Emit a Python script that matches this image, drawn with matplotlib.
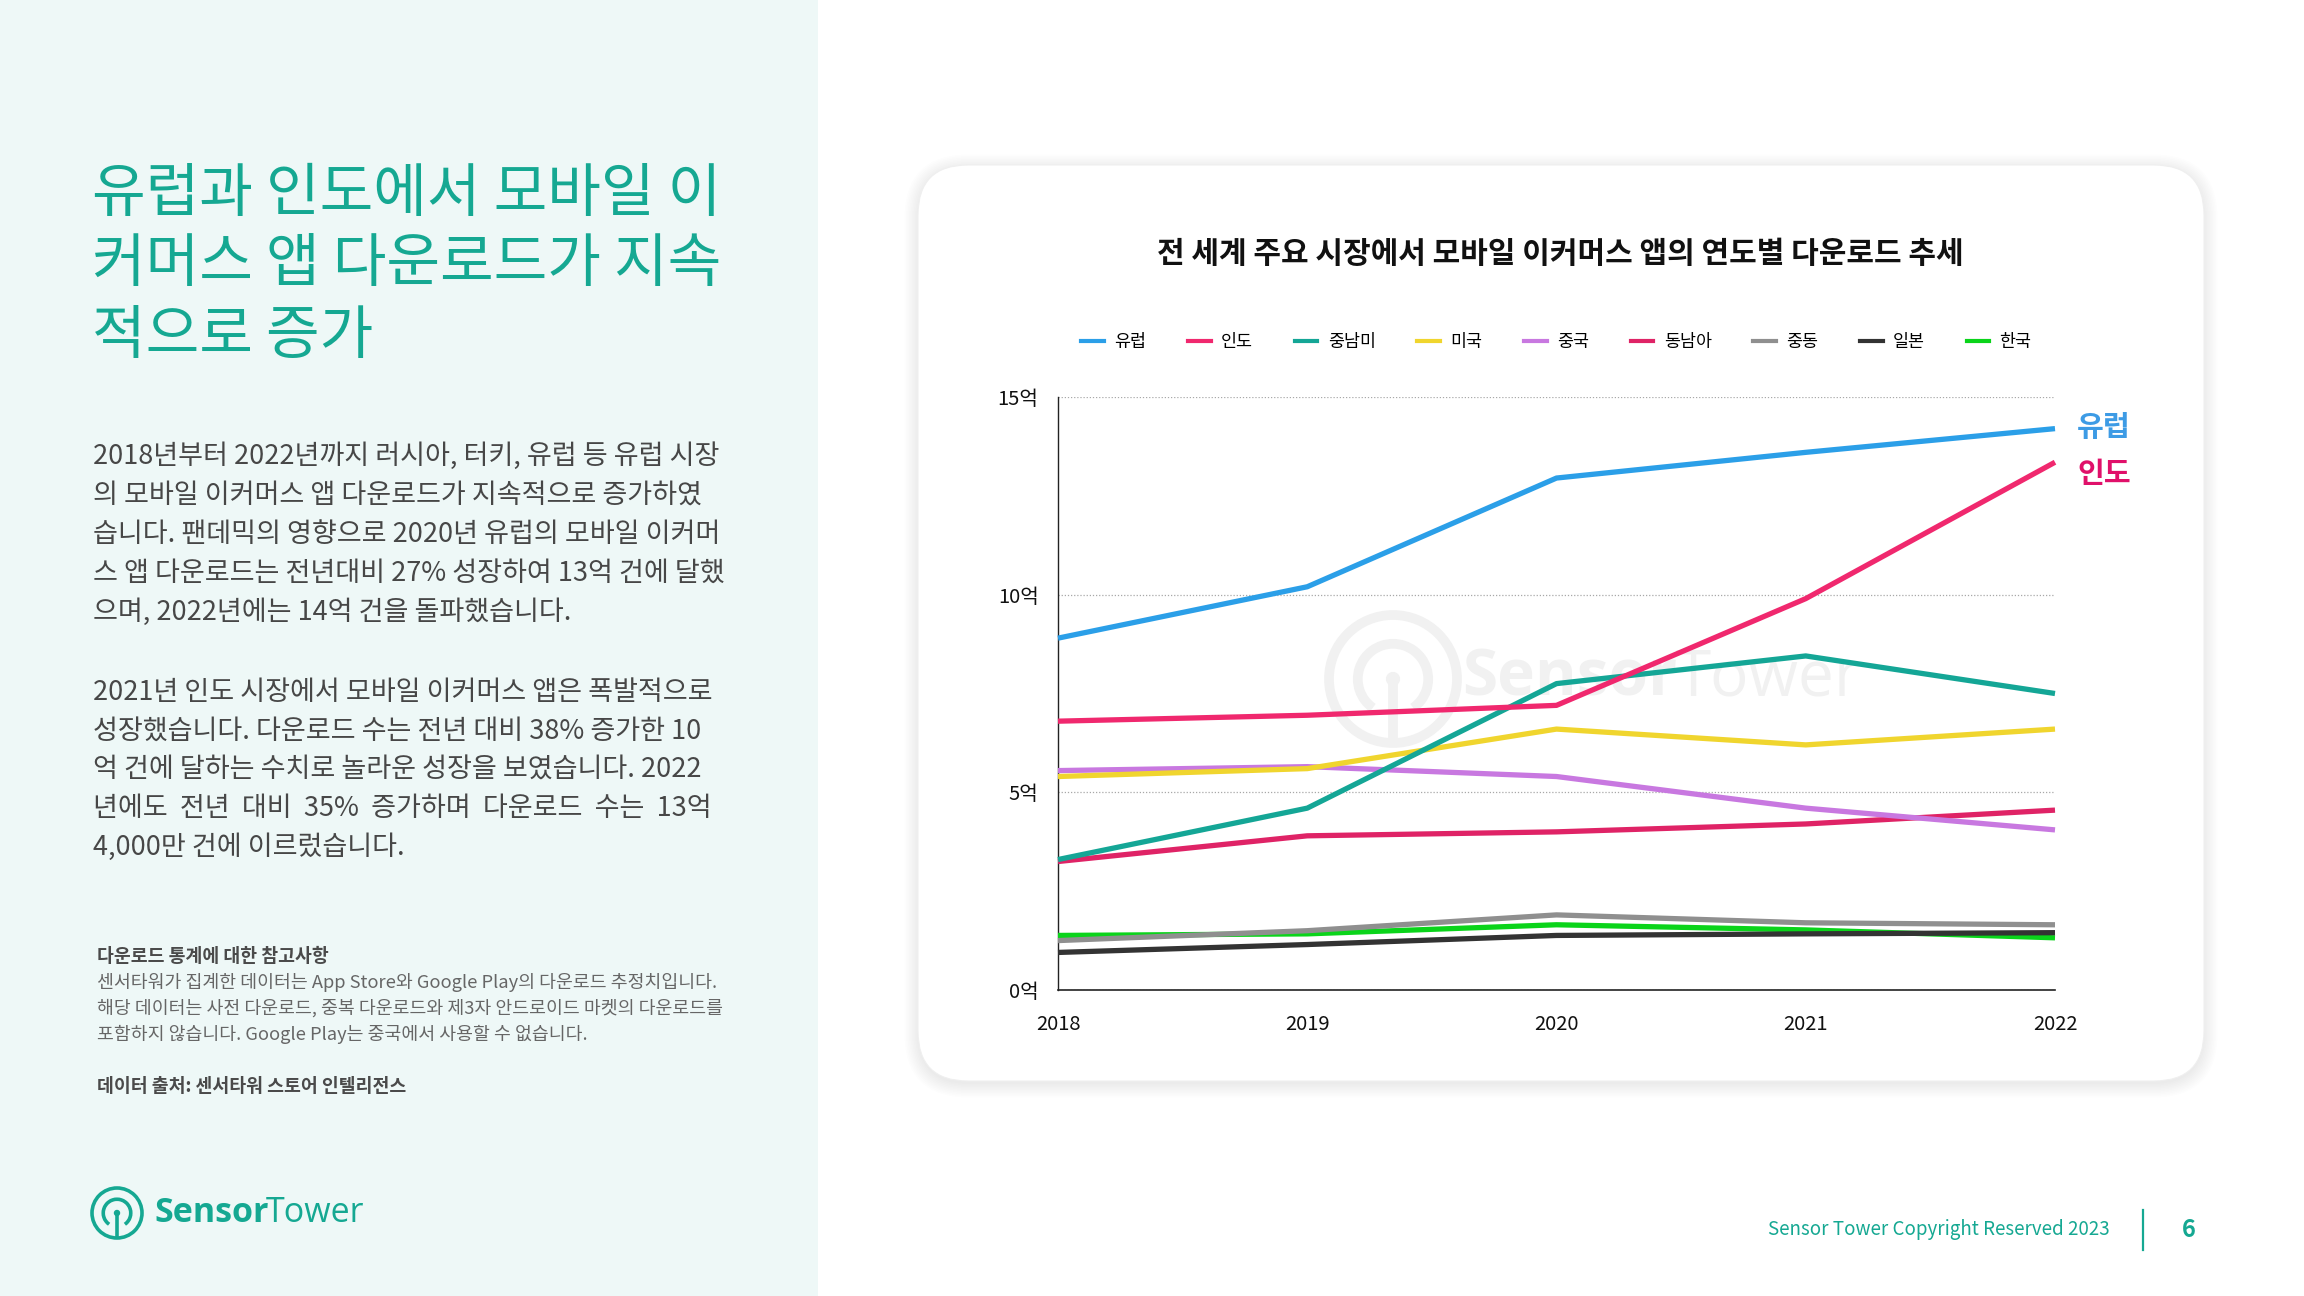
import matplotlib.pyplot as plt
from matplotlib.patches import FancyBboxPatch, Rectangle, Circle, Arc
from matplotlib.lines import Line2D

plt.rcParams['font.family'] = ['Noto Sans CJK KR', 'DejaVu Sans']

# data (억 downloads)
years = [2018, 2019, 2020, 2021, 2022]
markets = ['유럽', '인도', '중남미', '미국', '중국', '동남아', '중동', '일본', '한국']
europe = [8.9, 10.2, 12.95, 13.6, 14.2]
india = [6.8, 6.95, 7.2, 9.9, 13.35]
latam = [3.3, 4.6, 7.75, 8.45, 7.5]
usa = [5.4, 5.6, 6.6, 6.2, 6.6]
china = [5.55, 5.65, 5.4, 4.6, 4.05]
sea = [3.25, 3.9, 4.0, 4.2, 4.55]
mideast = [1.25, 1.5, 1.9, 1.7, 1.65]
japan = [0.95, 1.15, 1.38, 1.42, 1.45]
korea = [1.38, 1.42, 1.65, 1.52, 1.32]
series = [europe, india, latam, usa, china, sea, mideast, japan, korea]
colors = ['#2b9fe8', '#f0286e', '#14a696', '#f0d52e', '#c878e0',
          '#df2366', '#8f8f8f', '#333333', '#0ad41a']
yticks = [0, 5, 10, 15]
ytick_labels = ['0억', '5억', '10억', '15억']

title_lines = ['유럽과 인도에서 모바일 이', '커머스 앱 다운로드가 지속', '적으로 증가']
para1 = ['2018년부터 2022년까지 러시아, 터키, 유럽 등 유럽 시장',
         '의 모바일 이커머스 앱 다운로드가 지속적으로 증가하였',
         '습니다. 팬데믹의 영향으로 2020년 유럽의 모바일 이커머',
         '스 앱 다운로드는 전년대비 27% 성장하여 13억 건에 달했',
         '으며, 2022년에는 14억 건을 돌파했습니다.']
para2 = ['2021년 인도 시장에서 모바일 이커머스 앱은 폭발적으로',
         '성장했습니다. 다운로드 수는 전년 대비 38% 증가한 10',
         '억 건에 달하는 수치로 놀라운 성장을 보였습니다. 2022',
         '년에도  전년  대비  35%  증가하며  다운로드  수는  13억',
         '4,000만 건에 이르렀습니다.']
note_lines = ['센서타워가 집계한 데이터는 App Store와 Google Play의 다운로드 추정치입니다.',
              '해당 데이터는 사전 다운로드, 중복 다운로드와 제3자 안드로이드 마켓의 다운로드를',
              '포함하지 않습니다. Google Play는 중국에서 사용할 수 없습니다.']

teal = '#15a892'

fig = plt.figure(figsize=(23.04, 12.96), dpi=100, facecolor='white')

# background layer in pixel coords
bg = fig.add_axes([0, 0, 1, 1])
bg.set_xlim(0, 2304)
bg.set_ylim(1296, 0)
bg.axis('off')

bg.add_patch(Rectangle((0, 0), 818, 1296, color='#eef8f7', lw=0))

# card with soft shadow
for k in range(10):
    bg.add_patch(FancyBboxPatch((918 - k * 1.5, 165 - k * 1.5 + 3), 1286 + k * 3, 916 + k * 3,
                                boxstyle=f'round,pad=0,rounding_size={50 + k * 1.5}',
                                fc='black', ec='none', alpha=0.008))
bg.add_patch(FancyBboxPatch((918, 165), 1286, 916, boxstyle='round,pad=0,rounding_size=50',
                            fc='white', ec='#efefef', lw=0.8))


def draw_logo(cx, cy, r, color, lw):
    bg.add_patch(Circle((cx, cy), r, fill=False, ec=color, lw=lw))
    bg.add_patch(Arc((cx, cy), r * 1.1, r * 1.1, theta1=125, theta2=415, ec=color, lw=lw))
    bg.plot([cx, cx], [cy, cy + r], color=color, lw=lw, solid_capstyle='butt')
    bg.add_patch(Circle((cx, cy), r * 0.1, color=color))


# left panel texts
for i, line in enumerate(title_lines):
    bg.text(92, 194 + i * 71, line, fontsize=42, color=teal, va='center', weight='medium')
for i, line in enumerate(para1):
    bg.text(93, 456 + i * 39, line, fontsize=19.5, color='#474747', va='center')
for i, line in enumerate(para2):
    bg.text(93, 692 + i * 38.8, line, fontsize=19.5, color='#474747', va='center')
bg.text(97, 956, '다운로드 통계에 대한 참고사항', fontsize=13.2, color='#4a4a4a', va='center', weight='bold')
for i, line in enumerate(note_lines):
    bg.text(97, 983 + i * 25.8, line, fontsize=13.2, color='#666666', va='center')
bg.text(97, 1087, '데이터 출처: 센서타워 스토어 인텔리전스', fontsize=13.2, color='#4a4a4a',
        va='center', weight='bold')

draw_logo(117, 1213, 25, teal, 2.6)
bg.text(154, 1213, 'Sensor', fontsize=24.5, color=teal, weight='bold', va='center', family='Open Sans')
bg.text(266, 1213, 'Tower', fontsize=24.5, color=teal, va='center', family='Open Sans')

# footer
bg.text(2110, 1230, 'Sensor Tower Copyright Reserved 2023', fontsize=13.5, color=teal,
        ha='right', va='center')
bg.plot([2143, 2143], [1210, 1250], color=teal, lw=1.6)
bg.text(2189, 1230, '6', fontsize=17, color=teal, weight='bold', ha='center', va='center')

# watermark
draw_logo(1393, 679, 64, '#f1f1f1', 7)
bg.text(1462, 679, 'Sensor', fontsize=46, color='#f1f1f1', weight='bold', va='center', family='Open Sans')
bg.text(1675, 679, 'Tower', fontsize=46, color='#f1f1f1', va='center', family='Open Sans')

# chart title and end labels
bg.text(1560, 254, '전 세계 주요 시장에서 모바일 이커머스 앱의 연도별 다운로드 추세',
        fontsize=21.6, weight='bold', ha='center', va='center', color='#111111')
bg.text(2077, 427, '유럽', fontsize=21, weight='bold', color='#3d9be5', va='center')
bg.text(2077, 474, '인도', fontsize=21, weight='bold', color='#e0106a', va='center')

# chart
ax = fig.add_axes([1058 / 2304, 1 - 990 / 1296, (2055 - 1058) / 2304, (990 - 397) / 1296])
ax.set_facecolor('none')
for i, (vals, c) in enumerate(zip(series, colors)):
    ax.plot(years, vals, color=c, lw=3.8, solid_capstyle='butt', clip_on=False, zorder=20 - i)

ax.set_xlim(2018, 2022)
ax.set_ylim(0, 15)
ax.set_xticks(years)
ax.set_xticklabels([str(y) for y in years])
ax.set_yticks(yticks)
ax.set_yticklabels(ytick_labels)
ax.tick_params(axis='both', length=0, labelsize=14.5, colors='#111111')
ax.tick_params(axis='y', pad=14)
ax.tick_params(axis='x', pad=17)
ax.yaxis.grid(True, linestyle=(0, (1, 1.5)), color='#a8a8a8', lw=0.9)
ax.set_axisbelow(True)
for s in ['top', 'right']:
    ax.spines[s].set_visible(False)
ax.spines['left'].set_color('#222222')
ax.spines['bottom'].set_color('#222222')
ax.spines['left'].set_linewidth(1.0)
ax.spines['bottom'].set_linewidth(1.2)

handles = [Line2D([], [], color=c, lw=3) for c in colors]
ax.legend(handles, markets, loc='center', bbox_to_anchor=(0.5, 1.092), ncol=9, frameon=False,
          fontsize=12.5, handlelength=1.3, handletextpad=0.6, columnspacing=2.4)

fig.savefig('out.png', dpi=100, facecolor='white')
